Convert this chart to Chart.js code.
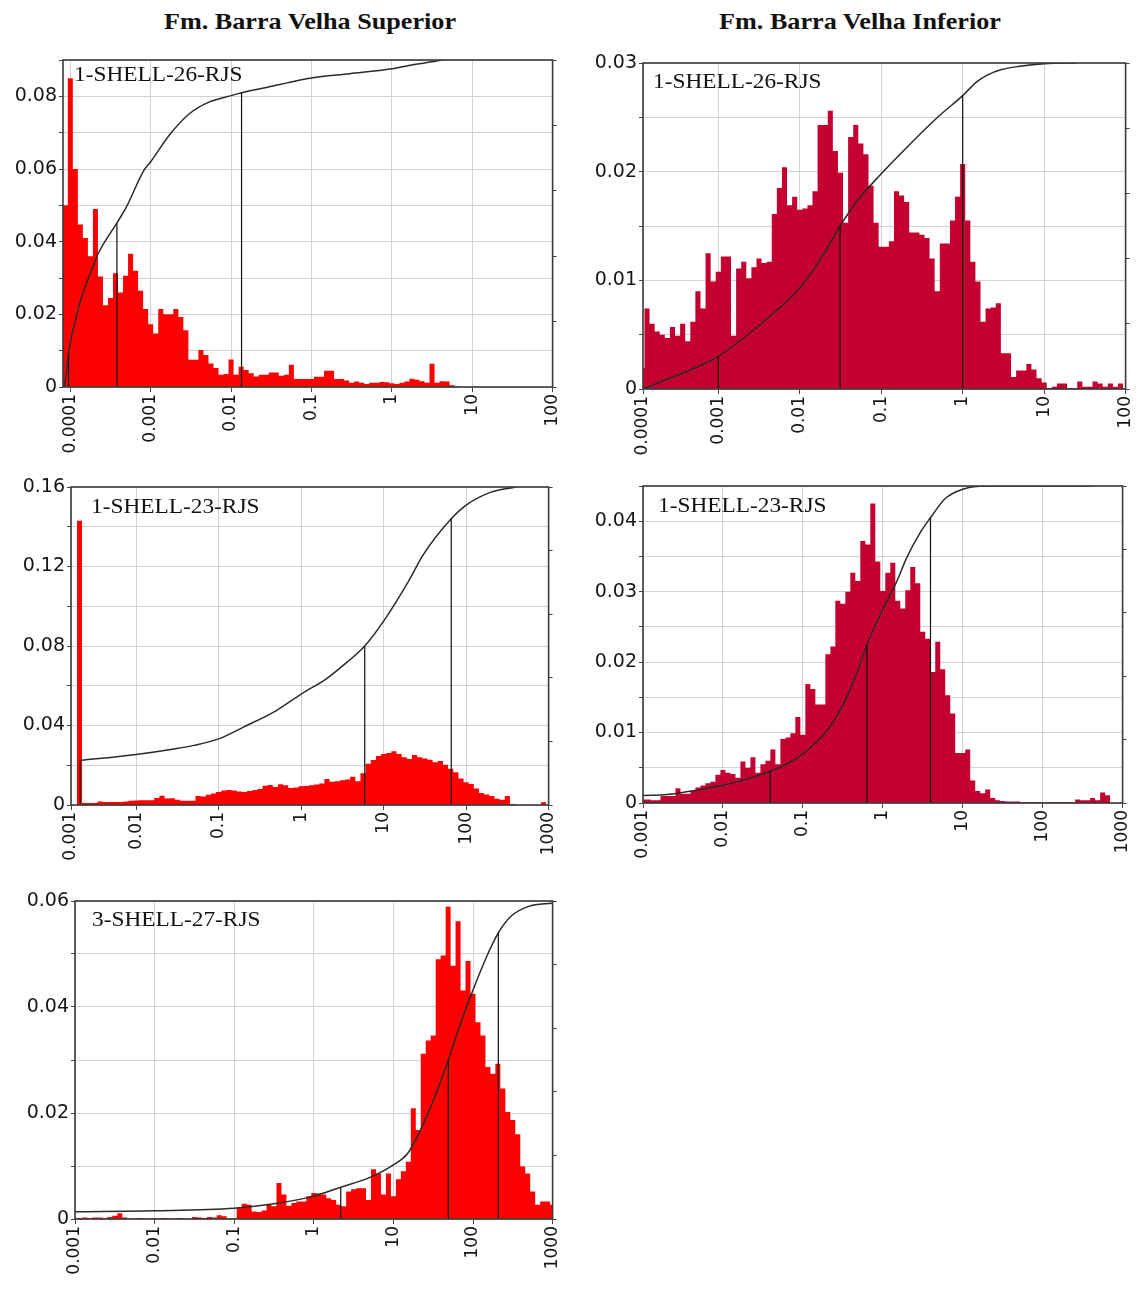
<!DOCTYPE html>
<html>
<head>
<meta charset="utf-8">
<title>Fm. Barra Velha</title>
<script src="https://cdn.jsdelivr.net/npm/chart.js@4.4.1/dist/chart.umd.min.js"></script>
<style>
  body { margin: 0; background: #fff; }
  #page { position: relative; width: 1140px; height: 1291px; overflow: hidden; background: #fff; }
  canvas { position: absolute; }
  .head { position: absolute; top: 6px; width: 420px; text-align: center; font: bold 24px 'Liberation Serif', 'Times New Roman', serif; line-height: 30px; color: #111; transform: scaleX(1.09); }
  .tag { position: absolute; font: 22px 'Liberation Serif', 'Times New Roman', serif; line-height: 22px; color: #111; white-space: nowrap; transform: scaleX(1.06); transform-origin: 0 50%; }
</style>
</head>
<body>
<div id="page">
  <div class="head" style="left:100px">Fm. Barra Velha Superior</div>
  <div class="head" style="left:650px">Fm. Barra Velha Inferior</div>
  <canvas id="p1"></canvas>
  <canvas id="p2"></canvas>
  <canvas id="p3"></canvas>
  <canvas id="p4"></canvas>
  <canvas id="p5"></canvas>
  <div class="tag" style="left:74px;top:63px">1-SHELL-26-RJS</div>
  <div class="tag" style="left:653px;top:70px">1-SHELL-26-RJS</div>
  <div class="tag" style="left:91px;top:495px">1-SHELL-23-RJS</div>
  <div class="tag" style="left:658px;top:494px">1-SHELL-23-RJS</div>
  <div class="tag" style="left:92px;top:908px">3-SHELL-27-RJS</div>
</div>
<script>
// histogram bins are log-spaced, 16 per decade; first*Bin = log10 of first bin centre
const binsPerDecade = 16

const xLabelsFrom4 = ['0.0001', '0.001', '0.01', '0.1', '1', '10', '100']
const xLabelsFrom3 = ['0.001', '0.01', '0.1', '1', '10', '100', '1000']

// Superior - 1-SHELL-26-RJS
const sup26FirstBin = -4.0625
const sup26Freq = [
  0.05, 0.085, 0.06, 0.0447, 0.041, 0.036, 0.049, 0.0304, 0.0225, 0.0245, 0.0313, 0.026, 0.0306, 0.0367, 0.032, 0.0265,
  0.0215, 0.0173, 0.0147, 0.0215, 0.02, 0.02, 0.0215, 0.0193, 0.0156, 0.0075, 0.0075, 0.0102, 0.0088, 0.0065, 0.0052, 0.0034,
  0.0036, 0.0076, 0.0034, 0.0056, 0.0047, 0.0038, 0.0029, 0.0034, 0.0034, 0.004, 0.004, 0.0031, 0.0034, 0.0061, 0.0022, 0.0022,
  0.0022, 0.0022, 0.0028, 0.0028, 0.0045, 0.0045, 0.0022, 0.0022, 0.0018, 0.0012, 0.0015, 0.0012, 0.0008, 0.0012, 0.0012, 0.0014,
  0.0013, 0.001, 0.0008, 0.0012, 0.0015, 0.0023, 0.002, 0.0016, 0.0012, 0.0064, 0.0012, 0.0016, 0.0015, 0.0005, 0.0002,
]
const sup26CumSize = [0.000084, 0.00009, 0.000095, 0.0001, 0.000108, 0.000124, 0.000143, 0.00019, 0.00022, 0.00038, 0.00049,
  0.00083, 0.001, 0.0017, 0.003, 0.0053, 0.01, 0.0135, 0.03, 0.05, 0.1, 0.3, 1, 2, 4.3]
const sup26CumFrac = [0, 0.05, 0.1, 0.133, 0.174, 0.234, 0.285, 0.366, 0.406, 0.502, 0.547,
  0.664, 0.689, 0.77, 0.835, 0.871, 0.891, 0.9, 0.918, 0.93, 0.945, 0.958, 0.973, 0.987, 1]
const sup26PctSize = [0.000095, 0.00038, 0.0135]
const sup26PctFrac = [0.1, 0.5, 0.9]
const sup26YLabels = ['0', '0.02', '0.04', '0.06', '0.08']

// Inferior - 1-SHELL-26-RJS
const inf26FirstBin = -3.9375
const inf26Freq = [
  0.0019, 0.0074, 0.006, 0.0053, 0.005, 0.0047, 0.0057, 0.0049, 0.006, 0.0044, 0.0062, 0.009, 0.0074, 0.0125, 0.0099, 0.0108,
  0.0122, 0.0122, 0.0049, 0.0111, 0.0117, 0.0102, 0.0112, 0.012, 0.0116, 0.0117, 0.0161, 0.0185, 0.0204, 0.0169, 0.0177,
  0.0165, 0.0166, 0.0169, 0.0182, 0.0243, 0.0243, 0.0256, 0.0219, 0.0199, 0.0153, 0.0232, 0.0243, 0.0226, 0.0216, 0.0187, 0.0153,
  0.0131, 0.0131, 0.0136, 0.0182, 0.0178, 0.0172, 0.0144, 0.0144, 0.0142, 0.0139, 0.012, 0.009, 0.0134, 0.0134, 0.0155, 0.0177,
  0.0207, 0.0155, 0.0117, 0.0099, 0.0062, 0.0074, 0.0075, 0.0079, 0.0033, 0.0033, 0.0011, 0.0017, 0.0017, 0.0023, 0.0018, 0.001,
  0.0006, 0.0001, 0.0002, 0.0005, 0.0005, 0.0001, 0.0001, 0.0007, 0.0002, 0.0002, 0.0007, 0.0005, 0.0002, 0.0005, 0.0002, 0.0005,
]
const inf26CumSize = [0.00012, 0.0002, 0.0005, 0.001, 0.002, 0.005, 0.01, 0.02, 0.0313, 0.05, 0.1, 0.2, 0.5, 1, 1.5, 2, 3, 5, 10, 25]
const inf26CumFrac = [0, 0.023, 0.063, 0.1, 0.155, 0.237, 0.31, 0.417, 0.5, 0.575, 0.66, 0.738, 0.835, 0.9, 0.943, 0.963, 0.98, 0.99, 0.998, 1]
const inf26PctSize = [0.001, 0.0313, 1]
const inf26PctFrac = [0.1, 0.5, 0.9]
const inf26YLabels = ['0', '0.01', '0.02', '0.03']

// Superior - 1-SHELL-23-RJS
const sup23FirstBin = -2.6875
const sup23Freq = [
  0.143, 0.001, 0.001, 0.001, 0.0018, 0.0015, 0.0015, 0.0015, 0.0015, 0.0018, 0.0022,
  0.0023, 0.0024, 0.0024, 0.0024, 0.0035, 0.0046, 0.0033, 0.0034, 0.0027, 0.0022, 0.0022, 0.0022, 0.0045, 0.0043, 0.0052, 0.0058,
  0.0066, 0.0073, 0.0076, 0.0073, 0.0068, 0.0066, 0.0071, 0.0075, 0.0081, 0.0097, 0.0101, 0.0091, 0.0105, 0.0099, 0.0085, 0.0088,
  0.0094, 0.0096, 0.0099, 0.0103, 0.0108, 0.0131, 0.0117, 0.012, 0.0124, 0.0128, 0.0142, 0.012, 0.016, 0.0208, 0.0227, 0.0247,
  0.0256, 0.0262, 0.027, 0.0256, 0.024, 0.0232, 0.0252, 0.024, 0.0234, 0.0228, 0.0215, 0.0222, 0.0202, 0.0183, 0.0165, 0.0133,
  0.0114, 0.0106, 0.0083, 0.0061, 0.0053, 0.0045, 0.0032, 0.0026, 0.0045, 0.0005, 0, 0, 0, 0, 0, 0.0014,
]
const sup23CumSize = [0.0021, 0.01, 0.03, 0.05, 0.1, 0.2, 0.5, 1, 2, 3, 5.9, 10, 20, 30, 66, 100, 200, 400]
const sup23CumFrac = [0.14, 0.159, 0.177, 0.1875, 0.208, 0.245, 0.297, 0.349, 0.396, 0.432, 0.5, 0.578, 0.703, 0.786, 0.9, 0.943, 0.984, 1]
const sup23PctSize = [0.0021, 5.9, 66]
const sup23PctFrac = [0.14, 0.5, 0.9]
const sup23YLabels = ['0', '0.04', '0.08', '0.12', '0.16']

// Inferior - 1-SHELL-23-RJS
const inf23FirstBin = -3
const inf23Freq = [
  0.0005, 0.0005, 0.0004, 0.0004, 0.001, 0.001, 0.001, 0.0021, 0.0013, 0.0013,
  0.0017, 0.0022, 0.0025, 0.0028, 0.003, 0.004, 0.0047, 0.0043, 0.0041, 0.0036,
  0.0059, 0.005, 0.0065, 0.0043, 0.0055, 0.006, 0.0076, 0.0055, 0.0091, 0.0093,
  0.0099, 0.0122, 0.0097, 0.0169, 0.0162, 0.014, 0.014, 0.0211, 0.0222, 0.0287,
  0.0283, 0.03, 0.0327, 0.0315, 0.0372, 0.0367, 0.0425, 0.0343, 0.0301, 0.0327,
  0.0341, 0.0287, 0.0276, 0.0302, 0.0335, 0.0312, 0.0243, 0.0233, 0.0186, 0.0229,
  0.019, 0.0153, 0.0127, 0.0071, 0.0071, 0.0076, 0.0032, 0.0017, 0.0014, 0.0019,
  0.0007, 0.0004, 0.0003, 0.0002, 0.0002, 0.0002, 0.0001, 0.0001, 0.0001, 0.0001,
  0.0001, 0.0001, 0.0001, 0.0001, 0.0001, 0.0001, 0.0001, 0.0005, 0.0004, 0.0004,
  0.0007, 0.0004, 0.0015, 0.0011,
]
const inf23CumSize = [0.001, 0.002, 0.005, 0.01, 0.02, 0.039, 0.07, 0.1, 0.2, 0.3, 0.5, 0.634, 1, 1.5, 2, 3, 3.95, 6, 10, 20, 400]
const inf23CumFrac = [0.024, 0.027, 0.042, 0.056, 0.076, 0.1, 0.129, 0.155, 0.228, 0.297, 0.425, 0.5, 0.61, 0.7, 0.775, 0.857, 0.9, 0.96, 0.99, 1, 1]
const inf23PctSize = [0.039, 0.634, 3.95]
const inf23PctFrac = [0.1, 0.5, 0.9]
const inf23YLabels = ['0', '0.01', '0.02', '0.03', '0.04']

// Superior - 3-SHELL-27-RJS
const sup27FirstBin = -3
const sup27Freq = [
  0.0002, 0.0002, 0.0003, 0.0002, 0.0003, 0.0003, 0.0002, 0.0004, 0.0006, 0.0011, 0.0003,
  0.0001, 0.0001, 0.0002, 0.0001, 0.0001, 0.0002, 0.0001, 0.0002, 0.0001, 0.0001, 0.0002, 0.0001, 0.0001,
  0.0004, 0.0003, 0.0002, 0.0004, 0.0003, 0.0007, 0.0005, 0.0001, 0.0001,
  0.0021, 0.0029, 0.0027, 0.0014, 0.0013, 0.0016, 0.0027, 0.0024,
  0.0068, 0.0046, 0.0025, 0.003, 0.0033, 0.0033, 0.0043, 0.0049, 0.0048, 0.0046,
  0.0039, 0.0036, 0.0027, 0.0024, 0.0052, 0.0056, 0.0058, 0.0058, 0.0036, 0.0094,
  0.0086, 0.0046, 0.0086, 0.0043, 0.0075, 0.009, 0.0108, 0.0209, 0.0168, 0.0312,
  0.0337, 0.0346, 0.049, 0.0497, 0.0589, 0.0478, 0.0562, 0.0431, 0.0487, 0.0425,
  0.0371, 0.0346, 0.0287, 0.0274, 0.0293, 0.0246, 0.0202, 0.0187, 0.016, 0.0099,
  0.0086, 0.0052, 0.0027, 0.0033, 0.0033, 0.0027,
]
const sup27CumSize = [0.001, 0.01, 0.1, 0.3, 1, 2.18, 5, 10, 15, 20, 30, 49, 70, 100, 150, 208, 300, 500, 1000]
const sup27CumFrac = [0.023, 0.026, 0.034, 0.047, 0.072, 0.1, 0.13, 0.17, 0.205, 0.26, 0.357, 0.5, 0.616, 0.72, 0.828, 0.9, 0.952, 0.983, 0.994]
const sup27PctSize = [2.18, 49, 208]
const sup27PctFrac = [0.1, 0.5, 0.9]
const sup27YLabels = ['0', '0.02', '0.04', '0.06']

const redSup = '#ff0000'
const redInf = '#c3002f'

const panels = [
  { id: 'p1', area: [63, 60, 557, 387], xMin: 0.0000811, xMax: 100, xLabels: xLabelsFrom4, yMax: 0.09, yStep: 0.01,
    yLabels: sup26YLabels, color: redSup, firstBin: sup26FirstBin, freq: sup26Freq,
    cumSize: sup26CumSize, cumFrac: sup26CumFrac, pctSize: sup26PctSize, pctFrac: sup26PctFrac },
  { id: 'p2', area: [643, 63, 1130, 389], xMin: 0.000119, xMax: 100, xLabels: xLabelsFrom4, yMax: 0.03, yStep: 0.005,
    yLabels: inf26YLabels, color: redInf, firstBin: inf26FirstBin, freq: inf26Freq,
    cumSize: inf26CumSize, cumFrac: inf26CumFrac, pctSize: inf26PctSize, pctFrac: inf26PctFrac },
  { id: 'p3', area: [71, 487, 553, 805], xMin: 0.00162, xMax: 1000, xLabels: xLabelsFrom3, yMax: 0.16, yStep: 0.02,
    yLabels: sup23YLabels, color: redSup, firstBin: sup23FirstBin, freq: sup23Freq,
    cumSize: sup23CumSize, cumFrac: sup23CumFrac, pctSize: sup23PctSize, pctFrac: sup23PctFrac },
  { id: 'p4', area: [643, 486, 1127, 803], xMin: 0.001, xMax: 1000, xLabels: xLabelsFrom3, yMax: 0.045, yStep: 0.005,
    yLabels: inf23YLabels, color: redInf, firstBin: inf23FirstBin, freq: inf23Freq,
    cumSize: inf23CumSize, cumFrac: inf23CumFrac, pctSize: inf23PctSize, pctFrac: inf23PctFrac },
  { id: 'p5', area: [75, 901, 557, 1219], xMin: 0.001, xMax: 1000, xLabels: xLabelsFrom3, yMax: 0.06, yStep: 0.01,
    yLabels: sup27YLabels, color: redSup, firstBin: sup27FirstBin, freq: sup27Freq,
    cumSize: sup27CumSize, cumFrac: sup27CumFrac, pctSize: sup27PctSize, pctFrac: sup27PctFrac },
]

// step points at the left edge of each bin, plus the right edge of the last one
function histPoints(firstBin, freq) {
  const edge = (i) => 10 ** (firstBin + (i - 0.5) / binsPerDecade)
  const pts = freq.map((f, i) => ({ x: edge(i), y: f }))
  pts.push({ x: edge(freq.length), y: freq[freq.length - 1] })
  return pts
}

const framePlugin = {
  id: 'frame',
  afterDraw(chart) {
    const { ctx, chartArea: a } = chart
    ctx.save()
    ctx.strokeStyle = '#3a3a3a'
    ctx.lineWidth = 1.6
    ctx.strokeRect(a.left, a.top, a.right - a.left, a.bottom - a.top)
    ctx.restore()
  },
}

Chart.defaults.color = '#161616'
Chart.defaults.font.family = "'DejaVu Sans', sans-serif"

const yAxisW = 62
const y2AxisW = 8
const padRight = 10
const padTop = 14
const xAxisH = 78

panels.forEach((p) => {
  const [l, t, r, b] = p.area
  const canvas = document.getElementById(p.id)
  const w = r - l + yAxisW + y2AxisW + padRight
  const h = b - t + padTop + xAxisH
  canvas.width = w
  canvas.height = h
  canvas.style.left = l - yAxisW + 'px'
  canvas.style.top = t - padTop + 'px'
  canvas.style.width = w + 'px'
  canvas.style.height = h + 'px'

  const xTicks = p.xLabels.map((s) => Math.max(parseFloat(s), p.xMin))

  const pctSets = p.pctSize.map((x, i) => ({
    data: [{ x, y: 0 }, { x, y: p.pctFrac[i] }],
    borderColor: '#111',
    borderWidth: 1.2,
    yAxisID: 'y2',
    order: 1,
  }))

  new Chart(canvas, {
    type: 'line',
    data: {
      datasets: [
        {
          data: histPoints(p.firstBin, p.freq),
          stepped: true,
          fill: 'origin',
          backgroundColor: p.color,
          borderColor: p.color,
          borderWidth: 0,
          yAxisID: 'y',
          order: 3,
        },
        {
          data: p.cumSize.map((x, i) => ({ x, y: p.cumFrac[i] })),
          borderColor: '#2a2a2a',
          borderWidth: 1.5,
          cubicInterpolationMode: 'monotone',
          yAxisID: 'y2',
          order: 2,
        },
        ...pctSets,
      ],
    },
    options: {
      responsive: false,
      animation: false,
      events: [],
      layout: { autoPadding: false, padding: { top: padTop, right: padRight, left: 0, bottom: 0 } },
      elements: { point: { radius: 0, borderWidth: 0, hitRadius: 0, hoverRadius: 0 } },
      plugins: { legend: { display: false }, tooltip: { enabled: false } },
      scales: {
        x: {
          type: 'logarithmic',
          min: p.xMin,
          max: p.xMax,
          afterBuildTicks: (scale) => {
            scale.ticks = xTicks.map((v) => ({ value: v }))
          },
          afterFit: (scale) => {
            scale.height = xAxisH
          },
          ticks: {
            autoSkip: false,
            minRotation: 90,
            maxRotation: 90,
            padding: 2,
            font: { size: 17 },
            callback: (v, i) => p.xLabels[i],
          },
          grid: { color: '#d2d2d2', tickColor: '#444', tickLength: 5 },
          border: { display: false },
        },
        y: {
          min: 0,
          max: p.yMax,
          afterFit: (scale) => {
            scale.width = yAxisW
          },
          ticks: {
            stepSize: p.yStep,
            padding: 2,
            font: { size: 19 },
            callback: (v) => p.yLabels.find((s) => Math.abs(parseFloat(s) - v) < 1e-9) ?? '',
          },
          grid: { color: '#d2d2d2', tickColor: '#444', tickLength: 4 },
          border: { display: false },
        },
        y2: {
          position: 'right',
          min: 0,
          max: 1,
          afterFit: (scale) => {
            scale.width = y2AxisW
          },
          ticks: { stepSize: 0.2, padding: 0, callback: () => '' },
          grid: { drawOnChartArea: false, tickColor: '#444', tickLength: 4 },
          border: { display: false },
        },
      },
    },
    plugins: [framePlugin],
  })
})
</script>
</body>
</html>
